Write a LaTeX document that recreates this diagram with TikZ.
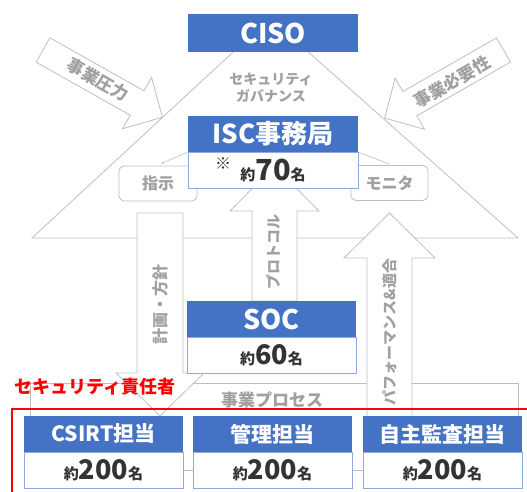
\documentclass[tikz,border=0pt]{standalone}
\usepackage{fontspec}
\setmainfont{Noto Sans CJK JP}
\usetikzlibrary{positioning,arrows.meta}
\definecolor{hdblue}{HTML}{4472C4}
\definecolor{bdblue}{HTML}{8FAADC}
\definecolor{linegray}{HTML}{BFBFBF}
\definecolor{txtgray}{HTML}{A0A0A0}
\definecolor{numgray}{HTML}{333333}
\newcommand{\fsz}[1]{\fontsize{#1}{#1}\selectfont}
\newcommand{\members}[2][27]{{\fsz{15}約}{\fsz{#1}#2}{\fsz{15}名}}

\begin{document}
\begin{tikzpicture}[
    x=1pt, y=-1pt,
    header/.style={fill=hdblue, text=white, font=\bfseries\fsz{21},
      inner sep=0pt, minimum height=36pt},
    body/.style={draw=bdblue, fill=white, text=numgray, font=\bfseries,
      inner sep=0pt, minimum height=36pt, line width=0.6pt},
    shapeline/.style={draw=linegray, fill=white, line width=0.8pt},
    graytext/.style={text=txtgray, font=\bfseries\fsz{16}, inner sep=0pt},
    tag/.style={draw=linegray, fill=white, rounded corners=5pt, line width=0.8pt,
      minimum height=35pt, inner sep=0pt, text=txtgray, font=\bfseries\fsz{16}}
  ]
  \useasboundingbox (0,0) rectangle (527,492);

  % Governance pyramid
  \filldraw[shapeline] (270,18) -- (32,238) -- (518,238) -- cycle;

  % Business process band
  \filldraw[shapeline] (30,383) rectangle (518,470);

  % Plan / policy (down)
  \filldraw[shapeline] (137,213) -- (183,213) -- (183,373) -- (204,373)
    -- (160,416) -- (116,373) -- (137,373) -- cycle;

  % Protocol (up)
  \filldraw[shapeline] (252,301) -- (252,211) -- (230,211) -- (274.5,166)
    -- (319,211) -- (297,211) -- (297,301) -- cycle;

  % Performance (up)
  \filldraw[shapeline] (367,420) -- (367,258) -- (344,258) -- (389.5,213)
    -- (435,258) -- (412,258) -- (412,420) -- cycle;

  % Business pressure
  \begin{scope}[shift={(43,50)}, rotate=-29.4]
    \filldraw[shapeline] (0,-14) -- (108,-14) -- (108,-29.5) -- (137,0)
      -- (108,29.5) -- (108,14) -- (0,14) -- cycle;
  \end{scope}

  % Business necessity
  \begin{scope}[shift={(503.5,50)}, rotate=209.8]
    \filldraw[shapeline] (0,-14) -- (108,-14) -- (108,-29.5) -- (137,0)
      -- (108,29.5) -- (108,14) -- (0,14) -- cycle;
  \end{scope}

  % Instruction / monitor tags
  \node[tag, minimum width=78pt] (tagl) at (158,183.5) {指示};
  \node[tag, minimum width=77pt] (tagr) at (389.5,183) {モニタ};

  % CISO and ISC office
  \node[header, minimum width=170pt, minimum height=38pt, font=\bfseries\fsz{27}]
    (ciso) at (273,33) {CISO};
  \node[header, minimum width=170pt, font=\bfseries\fsz{26}]
    (isch) at (273,134) {ISC事務局};
  \node[body, minimum width=170pt, below=0pt of isch] (iscb) {\members[29]{70}};
  \node[text=numgray, font=\fsz{16}, inner sep=0pt] (note) at (223,164) {※};

  \draw[linegray, line width=0.6pt, -{Stealth[length=3pt]}]
    (iscb.north west) -- ([xshift=3pt,yshift=2pt]tagl.north);
  \draw[linegray, line width=0.6pt] (iscb.north east) -- ([yshift=1pt]tagr.north);

  % SOC
  \node[header, minimum width=169pt, font=\bfseries\fsz{27}]
    (soch) at (271.5,319) {SOC};
  \node[body, minimum width=169pt, below=0pt of soch] (socb) {\members{60}};

  % Labels
  \node[graytext, font=\bfseries\fsz{14}, align=center] (gov) at (271,88)
    {セキュリティ\\[3pt]ガバナンス};
  \node[graytext, font=\bfseries\fsz{17}, rotate=-29.4] (press) at (98,80) {事業圧力};
  \node[graytext, font=\bfseries\fsz{17}, rotate=29.8] (need) at (452,82) {事業必要性};
  \node[graytext, rotate=90] (plan) at (160,304) {計画・方針};
  \node[graytext, font=\bfseries\fsz{15}, rotate=90] (proto) at (274,252) {プロトコル};
  \node[graytext, font=\bfseries\fsz{15}, rotate=90] (perf) at (390,332) {パフォーマンス\&適合};
  \node[graytext, font=\bfseries\fsz{17}] (proc) at (272,400) {事業プロセス};

  % Security officers
  \node[text=red, font=\bfseries\fsz{18}, inner sep=0pt] (officer) at (95,387)
    {セキュリティ責任者};
  \draw[red, line width=2.5pt] (12,409) rectangle (545,510);

  \node[header, minimum width=159pt] (csirth) at (103.5,434) {CSIRT担当};
  \node[body, minimum width=159pt, below=0pt of csirth] (csirtb) {\members{200}};
  \node[header, minimum width=159pt] (kanrih) at (272.5,434) {管理担当};
  \node[body, minimum width=159pt, below=0pt of kanrih] (kanrib) {\members{200}};
  \node[header, minimum width=159pt] (kansah) at (442.5,434) {自主監査担当};
  \node[body, minimum width=159pt, below=0pt of kansah] (kansab) {\members{200}};
\end{tikzpicture}
\end{document}
